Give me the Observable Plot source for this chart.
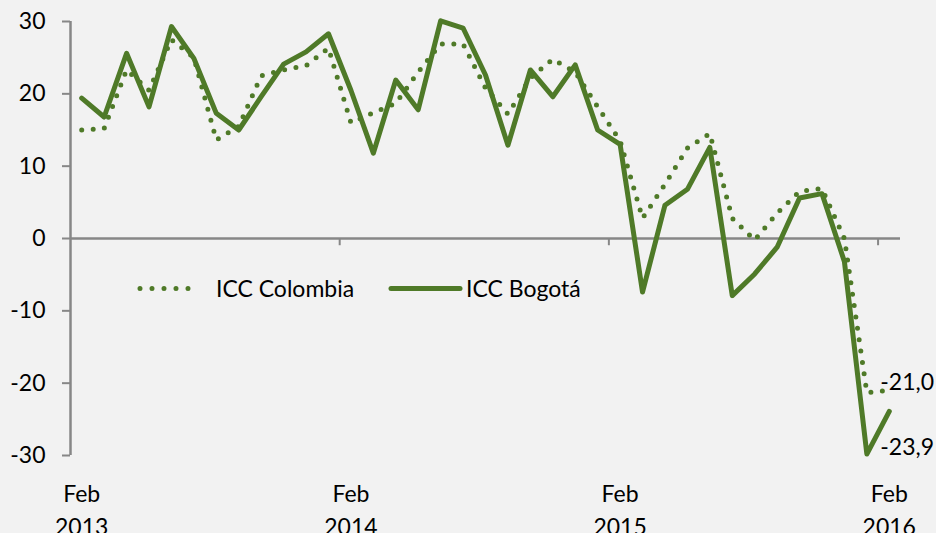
<!DOCTYPE html>
<html>
<head>
<meta charset="utf-8">
<script src="https://cdn.jsdelivr.net/npm/d3@7"></script>
<script src="https://cdn.jsdelivr.net/npm/@observablehq/plot@0.6"></script>
<style>
  html, body { margin: 0; padding: 0; background: #f2f2f2; }
  #chart { position: relative; width: 936px; height: 533px; overflow: hidden; background: #f2f2f2; font-family: Lato, "Open Sans", sans-serif; }
  #legend { position: absolute; left: 0; top: 0; pointer-events: none; }
</style>
</head>
<body>
<div id="chart"></div>
<script>
// Months Feb 2013 .. Feb 2016 (37 monthly observations)
const months = d3.utcMonth.range(new Date(Date.UTC(2013, 1, 1)), new Date(Date.UTC(2016, 2, 1)));

// ICC Colombia (dotted)
const iccColombia = [
  15.0, 15.2, 23.3, 20.5, 27.5, 25.0, 13.6, 15.5, 22.5, 23.3, 23.9, 26.3,
  16.0, 17.4, 18.7, 23.0, 26.9, 26.9, 20.8, 17.2, 22.2, 24.8, 23.0, 18.2,
  13.5, 2.8, 7.5, 12.5, 14.5, 2.8, -0.2, 3.5, 6.5, 6.9, 0.0, -21.3,
  -21.0
];

// ICC Bogotá (solid)
const iccBogota = [
  19.4, 16.8, 25.6, 18.2, 29.3, 24.9, 17.3, 15.0, 19.6, 24.1, 25.8, 28.3,
  20.5, 11.8, 21.9, 17.8, 30.1, 29.1, 22.6, 12.9, 23.3, 19.6, 24.0, 15.0,
  13.0, -7.4, 4.6, 6.8, 12.6, -7.9, -4.9, -1.2, 5.6, 6.2, -3.2, -29.8,
  -23.9
];

const seriesNames = ["ICC Colombia", "ICC Bogotá"];
const xTickIndex = [0, 12, 24, 36];
const xTickLabels = ["Feb\n2013", "Feb\n2014", "Feb\n2015", "Feb\n2016"];
const yTicks = [-30, -20, -10, 0, 10, 20, 30];

const green = "#4f7a28";
const axisGray = "#878787";

const rows = months.map((m, i) => ({ i, month: m, colombia: iccColombia[i], bogota: iccBogota[i] }));
const last = rows.length - 1;
const boundaries = [11.5, 23.5, 35.5];
const labelMap = new Map(xTickIndex.map((d, k) => [d, xTickLabels[k]]));
const fmt = v => v.toFixed(1).replace(".", ",");

const plot = Plot.plot({
  width: 936,
  height: 533,
  marginLeft: 70,
  marginRight: 36,
  marginTop: 21,
  marginBottom: 78,
  style: { background: "transparent", fontFamily: "Lato, 'Open Sans', sans-serif", fontSize: "23px", color: "#000", overflow: "visible" },
  x: { domain: [-0.5, 36.5] },
  y: { domain: [-30, 30] },
  marks: [
    Plot.ruleY([0], { stroke: axisGray, strokeWidth: 2.5 }),
    Plot.ruleX([-0.5], { stroke: axisGray, strokeWidth: 2.5 }),
    Plot.ruleX(boundaries, { x: d => d, y1: 0, y2: -1.0, stroke: axisGray, strokeWidth: 2 }),
    Plot.axisY({ ticks: yTicks, tickSize: 8, tickPadding: 17, stroke: axisGray, strokeWidth: 2, tickFormat: d => String(d), label: null, fill: "#000" }),
    Plot.axisX({ ticks: xTickIndex, tickSize: 0, tickPadding: 24, tickFormat: d => labelMap.get(d), lineHeight: 1.4, label: null, fill: "#000" }),
    Plot.line(rows, { x: "i", y: "colombia", stroke: green, strokeWidth: 5, strokeDasharray: "0 11.5", strokeLinecap: "round" }),
    Plot.line(rows, { x: "i", y: "bogota", stroke: green, strokeWidth: 5, strokeLinejoin: "round" }),
    Plot.text([rows[last]], { x: "i", y: "colombia", text: d => fmt(d.colombia), textAnchor: "start", dx: -9, dy: -8, fill: "#000" }),
    Plot.text([rows[last]], { x: "i", y: "bogota", text: d => fmt(d.bogota), textAnchor: "start", dx: -9, dy: 36, fill: "#000" })
  ]
});

const root = document.getElementById("chart");
root.appendChild(plot);

// Legend (inside plot area)
const ns = "http://www.w3.org/2000/svg";
const leg = document.createElementNS(ns, "svg");
leg.setAttribute("id", "legend");
leg.setAttribute("width", 936);
leg.setAttribute("height", 533);
const ly = 288.5;
const items = [
  { name: seriesNames[0], x1: 140, x2: 200, tx: 216, dash: "0 12" },
  { name: seriesNames[1], x1: 391, x2: 460, tx: 466, dash: null }
];
for (const it of items) {
  const l = document.createElementNS(ns, "line");
  l.setAttribute("x1", it.x1); l.setAttribute("x2", it.x2);
  l.setAttribute("y1", ly); l.setAttribute("y2", ly);
  l.setAttribute("stroke", green);
  l.setAttribute("stroke-width", 5);
  l.setAttribute("stroke-linecap", "round");
  if (it.dash) l.setAttribute("stroke-dasharray", it.dash);
  leg.appendChild(l);
  const t = document.createElementNS(ns, "text");
  t.setAttribute("x", it.tx);
  t.setAttribute("y", ly);
  t.setAttribute("dy", "0.35em");
  t.setAttribute("font-size", "23px");
  t.setAttribute("font-family", "Lato, 'Open Sans', sans-serif");
  t.setAttribute("fill", "#000");
  t.textContent = it.name;
  leg.appendChild(t);
}
root.appendChild(leg);
</script>
</body>
</html>
